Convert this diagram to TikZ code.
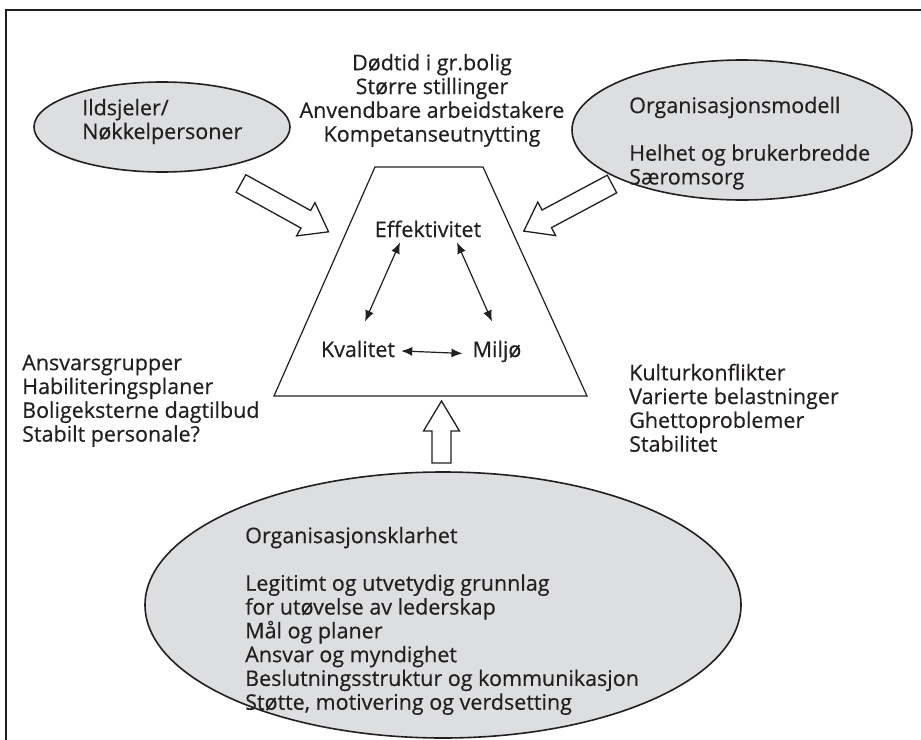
\documentclass[tikz,border=0pt]{standalone}
\usepackage{fontspec}
\setmainfont{Open Sans}[FakeBold=0.4]
\usetikzlibrary{shapes.geometric,arrows.meta,calc}
\definecolor{ink}{RGB}{35,31,32}
\definecolor{bubblefill}{RGB}{221,222,224}
\begin{document}
\begin{tikzpicture}[x=1pt,y=-1pt,
  txt/.style={font=\fontsize{21.5}{23.8}\selectfont, text=ink, inner sep=0pt},
  listtext/.style={txt, align=left, anchor=north west},
  bubble/.style={ellipse, draw=ink, line width=1.6pt, fill=bubblefill, inner sep=0pt},
  blockarrow/.style={draw=ink, line width=1.3pt, fill=white, line join=miter},
  twoway/.style={{Latex[length=11pt,width=9pt]}-{Latex[length=11pt,width=9pt]}, line width=1.2pt, draw=ink},
  frameline/.style={draw=ink, line width=2.4pt}]
\clip (0,0) rectangle (921,739);
\fill[white] (0,0) rectangle (921,739);

% outer frame (runs off the right and bottom)
\draw[frameline] (6,760) -- (6,10) -- (940,10);

% grey bubbles
\node[bubble, minimum width=256pt, minimum height=90pt] (ild) at (162,127) {};
\node[bubble, minimum width=340pt, minimum height=140pt] (orgm) at (742,130) {};
\node[bubble, minimum width=596pt, minimum height=266pt] (orgk) at (443,605) {};

% trapezoid
\coordinate (tl) at (375,167);
\coordinate (tr) at (483,167);
\coordinate (br) at (587,396);
\coordinate (bl) at (274,396);
\draw[ink, line width=1.2pt] (tl) -- (tr) -- (br) -- (bl) -- cycle;

% texts
\node[txt, align=center, anchor=north] (top) at (432,53.7)
  {Dødtid i gr.bolig\\Større stillinger\\Anvendbare arbeidstakere\\Kompetanseutnytting};
\node[listtext] (ildtxt) at (82,98.7) {Ildsjeler/\\Nøkkelpersoner};
\node[listtext] (orgmtxt) at (629,96.5)
  {Organisasjonsmodell\\[23.8pt]Helhet og brukerbredde\\Særomsorg};
\node[listtext] (left) at (22,354.6)
  {Ansvarsgrupper\\Habiliteringsplaner\\Boligeksterne dagtilbud\\Stabilt personale?};
\node[listtext] (right) at (629,363.6)
  {Kulturkonflikter\\Varierte belastninger\\Ghettoproblemer\\Stabilitet};
\node[listtext] (orgktxt) at (245,526.6)
  {Organisasjonsklarhet\\[23.8pt]Legitimt og utvetydig grunnlag\\for utøvelse av lederskap\\Mål og planer\\Ansvar og myndighet\\Beslutningsstruktur og kommunikasjon\\Støtte, motivering og verdsetting};

\node[txt, anchor=base] (eff) at (428,237) {Effektivitet};
\node[txt, anchor=base] (kval) at (358,357) {Kvalitet};
\node[txt, anchor=base] (miljo) at (497,357) {Miljø};

% two-way arrows between the three goals
\coordinate (a1) at ($(eff.south)+(-28,5)$);
\coordinate (a2) at ($(kval.north)+(7,-19)$);
\coordinate (b1) at ($(eff.south)+(29,5)$);
\coordinate (b2) at ($(miljo.north)+(-5,-19)$);
\coordinate (c1) at ($(kval.east)+(6,2)$);
\coordinate (c2) at ($(miljo.west)+(-10,2)$);
\draw[twoway] (a1) -- (a2);
\draw[twoway] (b1) -- (b2);
\draw[twoway] (c1) -- (c2);

% hollow block arrows pointing at the trapezoid
\begin{scope}[shift={(241,183.5)}, rotate=-28.9]
  \draw[blockarrow] (0,-10) -- (74,-10) -- (74,-19) -- (100,0) -- (74,19) -- (74,10) -- (0,10) -- cycle;
\end{scope}
\begin{scope}[shift={(612,184)}, rotate=208.1]
  \draw[blockarrow] (0,-10) -- (74,-10) -- (74,-19) -- (100,0) -- (74,19) -- (74,10) -- (0,10) -- cycle;
\end{scope}
\begin{scope}[shift={(441.5,463)}, rotate=90]
  \draw[blockarrow] (0,-9.5) -- (32,-9.5) -- (32,-18) -- (62,0) -- (32,18) -- (32,9.5) -- (0,9.5) -- cycle;
\end{scope}
\end{tikzpicture}
\end{document}
